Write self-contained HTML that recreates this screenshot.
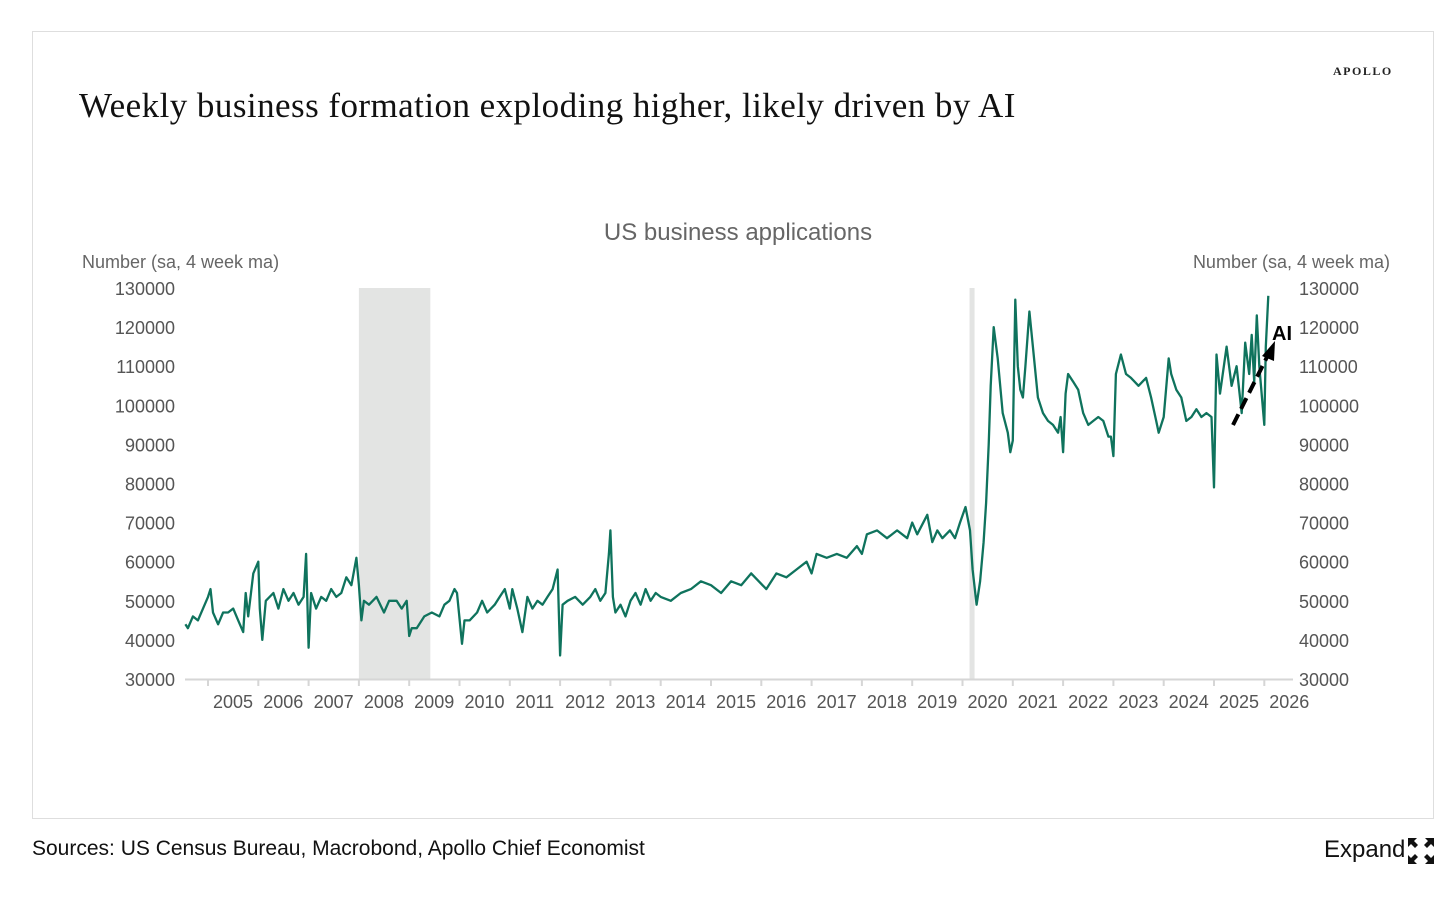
<!DOCTYPE html>
<html><head><meta charset="utf-8"><style>
body{margin:0;width:1456px;height:901px;background:#fff;overflow:hidden;font-family:"Liberation Sans",sans-serif}
#frame{position:absolute;left:32px;top:31px;width:1402px;height:788px;border:1px solid #dedede;box-sizing:border-box}
.t{position:absolute;white-space:nowrap}
</style></head><body>
<div id="frame"></div>
<div class="t" style="left:1333px;top:64px;font-family:'Liberation Serif',serif;font-size:12px;letter-spacing:1.5px;color:#222;font-weight:bold">APOLLO</div>
<div class="t" style="left:79px;top:86px;font-family:'Liberation Serif',serif;font-size:35px;letter-spacing:0.45px;color:#111">Weekly business formation exploding higher, likely driven by AI</div>
<div class="t" style="left:32px;top:837px;font-size:21px;color:#111">Sources: US Census Bureau, Macrobond, Apollo Chief Economist</div>
<div class="t" style="left:1324px;top:836px;font-size:24px;color:#111">Expand</div>
<svg width="30" height="30" style="position:absolute;left:1406px;top:836px" viewBox="0 0 30 30">
<g fill="#111"><polygon points="2,2 11,2 8,5 12,9 9,12 5,8 2,11"/><polygon points="28,2 19,2 22,5 18,9 21,12 25,8 28,11"/><polygon points="2,28 11,28 8,25 12,21 9,18 5,22 2,19"/><polygon points="28,28 19,28 22,25 18,21 21,18 25,22 28,19"/></g></svg>
<svg id="chart" width="1456" height="901" style="position:absolute;left:0;top:0"></svg>
<script>
const yTicks=[30000,40000,50000,60000,70000,80000,90000,100000,110000,120000,130000];
const years=[2005,2006,2007,2008,2009,2010,2011,2012,2013,2014,2015,2016,2017,2018,2019,2020,2021,2022,2023,2024,2025,2026];
const recessions=[[2008.0,2009.42],[2020.14,2020.24]];
const dates=[2004.55,2004.6,2004.7,2004.8,2004.9,2005.0,2005.05,2005.1,2005.2,2005.3,2005.4,2005.5,2005.6,2005.7,2005.75,2005.8,2005.9,2006.0,2006.03,2006.08,2006.15,2006.3,2006.4,2006.5,2006.6,2006.7,2006.8,2006.9,2006.95,2007.0,2007.05,2007.15,2007.25,2007.35,2007.45,2007.55,2007.65,2007.75,2007.85,2007.95,2008.0,2008.05,2008.1,2008.2,2008.35,2008.5,2008.6,2008.75,2008.85,2008.95,2009.0,2009.05,2009.15,2009.3,2009.45,2009.6,2009.7,2009.8,2009.9,2009.95,2010.05,2010.1,2010.2,2010.35,2010.45,2010.55,2010.7,2010.8,2010.9,2011.0,2011.05,2011.15,2011.25,2011.35,2011.45,2011.55,2011.65,2011.75,2011.85,2011.95,2012.0,2012.05,2012.15,2012.3,2012.45,2012.6,2012.7,2012.8,2012.9,2012.97,2013.0,2013.05,2013.1,2013.2,2013.3,2013.4,2013.5,2013.6,2013.7,2013.8,2013.9,2014.0,2014.2,2014.4,2014.6,2014.8,2015.0,2015.2,2015.4,2015.6,2015.8,2015.95,2016.1,2016.3,2016.5,2016.7,2016.9,2017.0,2017.1,2017.3,2017.5,2017.7,2017.9,2018.0,2018.1,2018.3,2018.5,2018.7,2018.9,2019.0,2019.1,2019.3,2019.4,2019.5,2019.6,2019.75,2019.85,2019.95,2020.06,2020.15,2020.2,2020.28,2020.35,2020.42,2020.47,2020.52,2020.56,2020.62,2020.7,2020.8,2020.9,2020.95,2021.0,2021.05,2021.1,2021.15,2021.2,2021.25,2021.33,2021.4,2021.5,2021.6,2021.7,2021.8,2021.9,2021.95,2022.0,2022.05,2022.1,2022.2,2022.3,2022.4,2022.5,2022.6,2022.7,2022.8,2022.9,2022.95,2023.0,2023.05,2023.15,2023.25,2023.35,2023.5,2023.65,2023.75,2023.85,2023.9,2024.0,2024.1,2024.15,2024.25,2024.35,2024.45,2024.55,2024.65,2024.75,2024.85,2024.95,2025.0,2025.05,2025.12,2025.25,2025.35,2025.45,2025.55,2025.62,2025.7,2025.75,2025.8,2025.85,2025.9,2026.0,2026.03,2026.08];
const values=[44000,43000,46000,45000,48000,51000,53000,47000,44000,47000,47000,48000,45000,42000,52000,46000,57000,60000,48000,40000,50000,52000,48000,53000,50000,52000,49000,51000,62000,38000,52000,48000,51000,50000,53000,51000,52000,56000,54000,61000,54000,45000,50000,49000,51000,47000,50000,50000,48000,50000,41000,43000,43000,46000,47000,46000,49000,50000,53000,52000,39000,45000,45000,47000,50000,47000,49000,51000,53000,48000,53000,48000,42000,51000,48000,50000,49000,51000,53000,58000,36000,49000,50000,51000,49000,51000,53000,50000,52000,62000,68000,51000,47000,49000,46000,50000,52000,49000,53000,50000,52000,51000,50000,52000,53000,55000,54000,52000,55000,54000,57000,55000,53000,57000,56000,58000,60000,57000,62000,61000,62000,61000,64000,62000,67000,68000,66000,68000,66000,70000,67000,72000,65000,68000,66000,68000,66000,70000,74000,68000,58000,49000,55000,65000,75000,90000,105000,120000,112000,98000,93000,88000,91000,127000,110000,104000,102000,110000,124000,115000,102000,98000,96000,95000,93000,97000,88000,103000,108000,106000,104000,98000,95000,96000,97000,96000,92000,92000,87000,108000,113000,108000,107000,105000,107000,102000,96000,93000,97000,112000,108000,104000,102000,96000,97000,99000,97000,98000,97000,79000,113000,103000,115000,105000,110000,98000,116000,108000,118000,106000,123000,110000,95000,115000,128000];
const NS='http://www.w3.org/2000/svg';
const svg=document.getElementById('chart');
const X0=185,X1=1293,Y0=679,Y1=288;
const xs=d=>208+(d-2005)*50.3;
const ys=v=>Y0-(v-30000)/100000*(Y0-Y1);
function mk(tag,attrs,parent){const e=document.createElementNS(NS,tag);for(const k in attrs)e.setAttribute(k,attrs[k]);(parent||svg).appendChild(e);return e;}
recessions.forEach(r=>{
 const e=mk('rect',{x:xs(r[0]),y:Y1,width:xs(r[1])-xs(r[0]),height:Y0-Y1,fill:'#e3e4e3'});
 
 
});
const ax=mk('line',{x1:X0,x2:X1,y1:Y0+0.5,y2:Y0+0.5,stroke:'#d6d6d6','stroke-width':2});


years.forEach(y=>{
 const tk=mk('line',{x1:xs(y),x2:xs(y),y1:Y0,y2:Y0+7,stroke:'#d6d6d6','stroke-width':2});
 
 
 const t=mk('text',{x:xs(y)+25,y:708,'text-anchor':'middle','font-size':18,fill:'#555','font-family':'Liberation Sans, sans-serif'});
 t.textContent=y;
 
 
});
yTicks.forEach(v=>{
 const a=mk('text',{x:175,y:ys(v)+7,'text-anchor':'end','font-size':18,fill:'#555','font-family':'Liberation Sans, sans-serif'});
 a.textContent=v;
 
 
 const b=mk('text',{x:1299,y:ys(v)+7,'text-anchor':'start','font-size':18,fill:'#555','font-family':'Liberation Sans, sans-serif'});
 b.textContent=v;
 
 
});
[['US business applications',738,240,24,'middle','chart-title'],['Number (sa, 4 week ma)',82,268,18,'start','y-left-axis-title'],['Number (sa, 4 week ma)',1390,268,18,'end','y-right-axis-title']].forEach(o=>{
 const t=mk('text',{x:o[1],y:o[2],'font-size':o[3],'text-anchor':o[4],fill:'#666','font-family':'Liberation Sans, sans-serif'});
 t.textContent=o[0];
 
 
});
const pts=dates.map((d,i)=>xs(d).toFixed(1)+','+ys(values[i]).toFixed(1)).join(' ');
const line=mk('polyline',{points:pts,fill:'none',stroke:'#0f735d','stroke-width':2.3,'stroke-linejoin':'round'});


const ar=mk('line',{x1:1233,y1:425,x2:1268,y2:355,stroke:'#000','stroke-width':4,'stroke-dasharray':'12,6'});


const ah=mk('polygon',{points:'1275,341 1262,356 1274,361',fill:'#000'});


const at=mk('text',{x:1272,y:340,'font-size':20,'font-weight':'bold',fill:'#000','font-family':'Liberation Sans, sans-serif'});
at.textContent='AI';


</script>
</body></html>
